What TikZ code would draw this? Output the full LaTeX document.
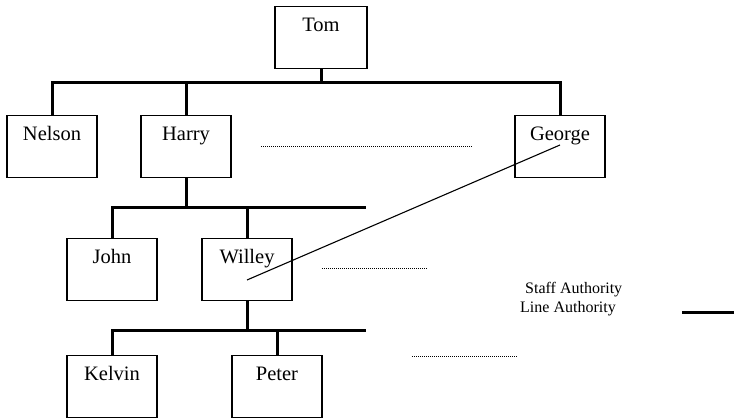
\documentclass[tikz,border=0pt]{standalone}
\usepackage{fontspec}
\setmainfont{Liberation Serif}
\tikzset{
  person/.style={draw, line width=1.5pt, minimum width=90pt, inner ysep=0pt,
    text height=25pt, text depth=37pt, font=\fontsize{20.5}{24}\selectfont},
  lineauth/.style={line width=3pt},
  staffauth/.style={line width=1pt, dash pattern=on 1pt off 1pt},
  legendtext/.style={anchor=west, inner sep=0pt, font=\fontsize{16}{18}\selectfont}
}
\begin{document}
\begin{tikzpicture}[x=1pt,y=-1pt]
		\useasboundingbox (0,0) rectangle (734,419);
		
		\node[person, minimum width=92pt] (tom) at (321,6) [anchor=north] {Tom};
		\node[person] (nelson) at (52,115) [anchor=north] {Nelson};
		\node[person] (harry) at (186,115) [anchor=north] {Harry};
		\node[person] (george) at (560,115) [anchor=north] {George};
		
		\node[person] (john) at (112,238) [anchor=north] {John};
		\node[person] (willey) at (247,238) [anchor=north] {Willey};
		
		\node[person] (kelvin) at (112,355) [anchor=north] {Kelvin};
		\node[person] (peter) at (277,355) [anchor=north] {Peter};
		
		\coordinate (bar1) at (0,83); \coordinate (bar2) at (0,208); \coordinate (bar3) at (0,331);
		\coordinate (end2) at (366,208); \coordinate (end3) at (366,331);
		
		% line authority
		\draw[lineauth] (tom.south) -- (tom.south |- bar1);
		\draw[lineauth] (nelson.north) -- (nelson.north |- bar1) -- (george.north |- bar1) -- (george.north);
		\draw[lineauth] (harry.north) -- (harry.north |- bar1);
		
		\draw[lineauth] (harry.south) -- (harry.south |- bar2);
		\draw[lineauth] (john.north) -- (john.north |- bar2) -- (end2);
		\draw[lineauth] (willey.north) -- (willey.north |- bar2);
		
		\draw[lineauth] (willey.south) -- (willey.south |- bar3);
		\draw[lineauth] (kelvin.north) -- (kelvin.north |- bar3) -- (end3);
		\draw[lineauth] (peter.north) -- (peter.north |- bar3);
		
		% staff authority
		\coordinate (d1a) at (261,147); \coordinate (d1b) at (472,147);
		\coordinate (d2a) at (322,269); \coordinate (d2b) at (427,269);
		\coordinate (d3a) at (412,357); \coordinate (d3b) at (517,357);
		\draw[staffauth] (d1a) -- (d1b);
		\draw[staffauth] (d2a) -- (d2b);
		\draw[staffauth] (d3a) -- (d3b);
		
		\coordinate (s1) at (247,280); \coordinate (s2) at (560,145);
		\draw[line width=1.1pt] (s1) -- (s2);
		
		% legend
		\node[legendtext] (staff) at (525,290) {Staff Authority};
		\node[legendtext] (line) at (520,309) {Line Authority};
		\coordinate (l1) at (682,313); \coordinate (l2) at (734,313);
		\draw[lineauth] (l1) -- (l2);
\end{tikzpicture}
\end{document}
